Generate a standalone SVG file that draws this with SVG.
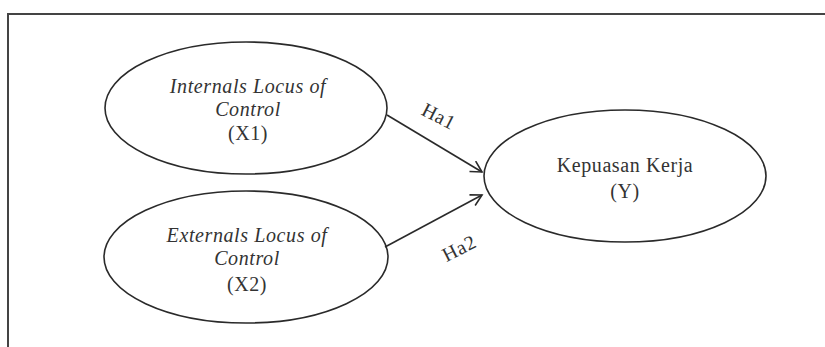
<svg xmlns="http://www.w3.org/2000/svg" width="825" height="347" viewBox="0 0 825 347">
<style>
.n{fill:#fff;stroke:#2a2a2a;stroke-width:1.6}
.t{font-family:"Liberation Serif","Times New Roman",serif;font-size:20px;fill:#333;text-anchor:middle;letter-spacing:0.6px}
.i{font-style:italic}
.c{stroke:#2a2a2a;stroke-width:1.6;fill:none}
</style>
<defs>
<marker id="a" markerWidth="14" markerHeight="14" refX="12" refY="7" orient="auto" markerUnits="userSpaceOnUse">
<path d="M1,1 L12,7 L1,13" fill="none" stroke="#2a2a2a" stroke-width="1.6"/>
</marker>
</defs>
<rect width="825" height="347" fill="#fff"/>
<g id="frame"><path d="M8,347 V14 H825" fill="none" stroke="#444" stroke-width="2"/></g>
<g id="x1">
<ellipse class="n" cx="246" cy="108" rx="141" ry="66"/>
<text class="t i" x="248" y="93">Internals Locus of</text>
<text class="t i" x="248" y="116">Control</text>
<text class="t" x="248" y="140">(X1)</text>
</g>
<g id="x2">
<ellipse class="n" cx="246" cy="257" rx="142" ry="66"/>
<text class="t i" x="247" y="242">Externals Locus of</text>
<text class="t i" x="247" y="265">Control</text>
<text class="t" x="247" y="291">(X2)</text>
</g>
<g id="y">
<ellipse class="n" cx="625" cy="176" rx="141" ry="66"/>
<text class="t" x="625" y="172">Kepuasan Kerja</text>
<text class="t" x="625" y="198">(Y)</text>
</g>
<g id="connectors">
<line class="c" x1="387" y1="115" x2="482" y2="172" marker-end="url(#a)"/>
<line class="c" x1="385" y1="247" x2="482" y2="195" marker-end="url(#a)"/>
<text class="t" x="439" y="123" transform="rotate(27 439 116)">Ha1</text>
<text class="t" x="459" y="255" transform="rotate(-27 459 248)">Ha2</text>
</g>
</svg>
